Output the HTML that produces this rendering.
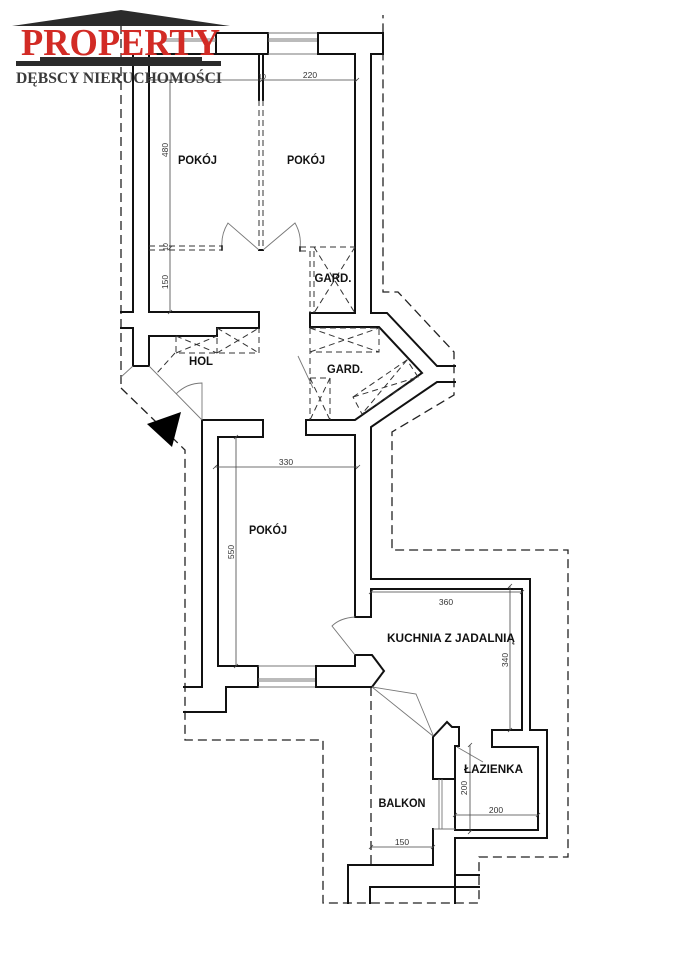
<!DOCTYPE html>
<html><head><meta charset="utf-8">
<style>
html,body{margin:0;padding:0;background:#fff;}
svg{display:block;}
.w{fill:none;stroke:#111;stroke-width:2;stroke-linejoin:miter;stroke-linecap:square;}
.t{fill:none;stroke:#777;stroke-width:0.9;}
.d{fill:none;stroke:#222;stroke-width:1.3;stroke-dasharray:9 5;}
.dd{fill:none;stroke:#333;stroke-width:1;stroke-dasharray:6 4;}
.dm{fill:none;stroke:#444;stroke-width:0.8;}
.lbl{font-family:"Liberation Sans",sans-serif;font-weight:bold;font-size:11.5px;fill:#111;}
.dim{font-family:"Liberation Sans",sans-serif;font-size:8.5px;fill:#333;}
</style></head><body>
<svg width="678" height="960" viewBox="0 0 678 960" xmlns="http://www.w3.org/2000/svg">

<!-- outer dashed boundaries -->
<path class="d" d="M121,25 V387"/>
<path class="d" d="M121,388 L185,450 V740 H323 V903 H479 V857 H568 V550 H392 V432 L454,395 V352 L398,292 H383 V15"/>
<path class="d" d="M371,687 V865"/>

<!-- upper-left walls -->
<path class="w" d="M133,54 V312"/>
<path class="w" d="M121,312 H133"/>
<path class="w" d="M121,328 H133 V366 H149 V336 H217 V328 H259 V312 H149 V54 H216"/>
<rect class="w" x="216" y="33" width="52" height="21"/>
<path class="t" d="M268,33 H318 M268,39 H318 M268,41 H318 M268,54 H318"/>
<path class="t" d="M165,39 H216 M165,41 H216"/>

<!-- central / right walls -->
<path class="w" d="M306,420 H355 L422,373 L379,327 H310 V313 H355 V54 H318 V33 H383 V54 H371 V313 H387 L437,366 H455"/>
<path class="w" d="M455,382 H437 L371,427 V579 H530 V730 H547 V838 H455 V903"/>
<path class="w" d="M306,420 V435 H355 V617 H371 V589 H522 V730 H492 V747 H538 V830 H455 V746 H459 V727 H452 L447,722 L433,737 V779 H455"/>
<path class="w" d="M433,829 V865 H348 V903"/>
<path class="w" d="M370,903 V887 H479"/>
<path class="w" d="M455,875 H479"/>
<path class="t" d="M433,829 H455 M439,779 V829 M442,779 V829"/>

<!-- lower POKOJ -->
<path class="w" d="M263,437 V420 H202 V687 H184"/>
<path class="w" d="M184,712 H226 V687 H258 V666 H218 V437 H263"/>
<path class="t" d="M258,666 H316 M258,679 H316 M258,681 H316 M258,687 H316"/>
<path class="w" d="M355,655 H372 L384,671 L372,687 H316 V666 H355 Z"/>

<!-- top partition between rooms -->
<path class="w" d="M259,54 V100 M263,54 V100 M259,250 H263"/>
<path class="dd" d="M259,100 V250 M263,100 V250"/>

<!-- top doors -->
<path class="t" d="M259,250 L228,223 A40,40 0 0 0 222,248"/>
<path class="t" d="M263,250 L295,223 A40,40 0 0 1 300,248"/>

<!-- dashed partitions at y~248 -->
<path class="dd" d="M149,246 H222 M149,250 H222"/>
<path class="w" d="M222,246 V250" style="stroke-width:1.5"/>
<path class="w" d="M300,247 V251" style="stroke-width:1.5"/>
<path class="dd" d="M300,247 H355 M300,251 H310 M310,251 V313 M314,251 V313"/>
<path class="dd" d="M314,247 L355,313 M355,247 L314,313"/>

<!-- HOL storage -->
<path class="dd" d="M176,336 V353 H259 V328 M217,328 V353"/>
<path class="dd" d="M176,336 L217,353 M176,353 L217,336 M217,328 L259,353 M217,353 L259,328"/>
<path class="dd" d="M175,353 L157,373"/>

<!-- lower GARD -->
<path class="dd" d="M310,328 V420"/>
<path class="dd" d="M310,328 H379 V352 H310"/>
<path class="dd" d="M310,328 L379,352 M310,352 L379,328"/>
<path class="dd" d="M310,378 H330 V420"/>
<path class="dd" d="M310,378 L330,420 M330,378 L310,420"/>
<path class="dd" d="M353,397 L407,360 L418,377 L362,414 Z"/>
<path class="dd" d="M353,397 L418,377 M407,360 L362,414"/>
<path class="t" d="M298,356 L313,388"/>

<!-- entrance -->
<path class="t" d="M133,366 L121,377"/>
<path class="t" d="M149,366 L202,420"/>
<path class="t" d="M202,420 V383 A37,37 0 0 0 176,394"/>
<polygon points="147,424 181,412 172,447" fill="#000"/>

<!-- lower POKOJ door to kitchen -->
<path class="t" d="M355,617 Q340,618 332,626 L355,655"/>

<!-- kitchen to balcony lines -->
<path class="t" d="M372,687 L433,736 M372,687 L416,694 L433,735"/>
<!-- bathroom door -->
<path class="t" d="M457,747 L483,762"/>

<!-- dimension lines -->
<path class="dm" d="M149,80 H357 M260,82 L264,78 M355,82 L359,78 M147,82 L151,78"/>
<path class="dm" d="M170,80 V312 M168,250 L172,246 M168,314 L172,310"/>
<path class="dm" d="M215,467 H358 M213,469 L217,465 M356,469 L360,465"/>
<path class="dm" d="M236,437 V666 M234,439 L238,435 M234,668 L238,664"/>
<path class="dm" d="M371,592 H522 M369,594 L373,590 M520,594 L524,590"/>
<path class="dm" d="M510,586 V730 M508,588 L512,584 M508,732 L512,728"/>
<path class="dm" d="M470,745 V832 M468,747 L472,743 M468,834 L472,830"/>
<path class="dm" d="M455,815 H538 M453,817 L457,813 M536,817 L540,813"/>
<path class="dm" d="M371,847 H433 M369,849 L373,845 M431,849 L435,845"/>

<text class="dim" x="310" y="78" text-anchor="middle">220</text>
<text class="dim" x="262" y="79" text-anchor="middle" style="font-size:7px">10</text>
<text class="dim" transform="translate(168,150) rotate(-90)" text-anchor="middle">480</text>
<text class="dim" transform="translate(168,282) rotate(-90)" text-anchor="middle">150</text>
<text class="dim" transform="translate(168,247) rotate(-90)" text-anchor="middle" style="font-size:7px">10</text>
<text class="dim" x="286" y="465" text-anchor="middle">330</text>
<text class="dim" transform="translate(234,552) rotate(-90)" text-anchor="middle">550</text>
<text class="dim" x="446" y="605" text-anchor="middle">360</text>
<text class="dim" transform="translate(508,660) rotate(-90)" text-anchor="middle">340</text>
<text class="dim" transform="translate(467,788) rotate(-90)" text-anchor="middle">200</text>
<text class="dim" x="496" y="813" text-anchor="middle">200</text>
<text class="dim" x="402" y="845" text-anchor="middle">150</text>

<!-- room labels -->
<text class="lbl" x="197.5" y="164" text-anchor="middle" textLength="39" lengthAdjust="spacingAndGlyphs">POKÓJ</text>
<text class="lbl" x="306" y="164" text-anchor="middle" textLength="38" lengthAdjust="spacingAndGlyphs">POKÓJ</text>
<text class="lbl" x="333" y="282" text-anchor="middle" textLength="37" lengthAdjust="spacingAndGlyphs">GARD.</text>
<text class="lbl" x="201" y="365" text-anchor="middle" textLength="24" lengthAdjust="spacingAndGlyphs">HOL</text>
<text class="lbl" x="345" y="373" text-anchor="middle" textLength="36" lengthAdjust="spacingAndGlyphs">GARD.</text>
<text class="lbl" x="268" y="534" text-anchor="middle" textLength="38" lengthAdjust="spacingAndGlyphs">POKÓJ</text>
<text class="lbl" x="451" y="642" text-anchor="middle" textLength="128" lengthAdjust="spacingAndGlyphs">KUCHNIA Z JADALNIĄ</text>
<text class="lbl" x="493.5" y="773" text-anchor="middle" textLength="59" lengthAdjust="spacingAndGlyphs">ŁAZIENKA</text>
<text class="lbl" x="402" y="807" text-anchor="middle" textLength="47" lengthAdjust="spacingAndGlyphs">BALKON</text>

<!-- logo -->
<polygon points="12,26 121,10 230,26" fill="#2b2b2b"/>
<text x="21" y="55" textLength="199" lengthAdjust="spacingAndGlyphs" style="font-family:'Liberation Serif',serif;font-weight:bold;font-size:38px;fill:#d22b25;">PROPERTY</text>
<polygon points="16,61 40,61 40,57 202,57 202,61 221,61 221,66 16,66" fill="#2b2b2b"/>
<text x="16" y="83" textLength="206" lengthAdjust="spacingAndGlyphs" style="font-family:'Liberation Serif',serif;font-weight:bold;font-size:15.5px;fill:#3a3a3a;">DĘBSCY NIERUCHOMOŚCI</text>

</svg>
</body></html>
